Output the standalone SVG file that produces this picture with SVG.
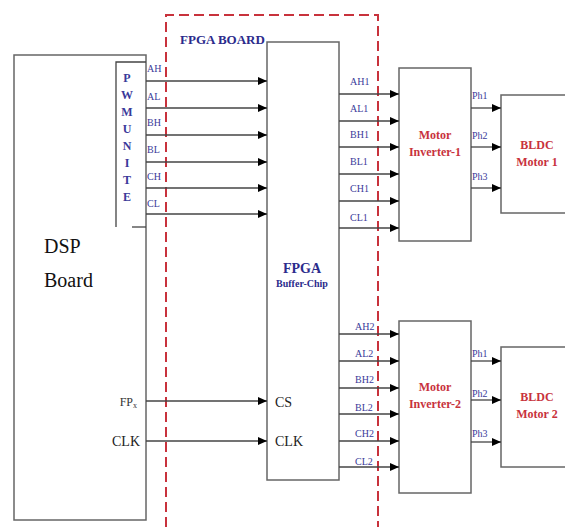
<svg xmlns="http://www.w3.org/2000/svg" width="565" height="527" viewBox="0 0 565 527">
<defs>
<marker id="ah" markerWidth="10" markerHeight="10" refX="9" refY="5" orient="auto" markerUnits="userSpaceOnUse">
<path d="M0,1 L9,5 L0,9 Z" fill="#000"/>
</marker>
<style>
text{font-family:"Liberation Serif","Times New Roman","DejaVu Serif",serif}
.box{fill:#fff;stroke:#666;stroke-width:1.5}
.ln{stroke:#444;stroke-width:1.3;fill:none}
.ar{stroke:#444;stroke-width:1.3;fill:none;marker-end:url(#ah)}
.sig{font-size:10px;fill:#3a3a9a}
.pwm{font-size:12px;font-weight:bold;fill:#3a3a9a;text-anchor:middle}
.red{font-size:12px;font-weight:bold;fill:#c8323c;text-anchor:middle}
.blk{font-size:14px;fill:#222}
.big{font-size:20px;fill:#111}
.chip{font-weight:bold;fill:#2b2b8c;text-anchor:middle}
.dash{stroke:#c8323c;stroke-width:2;fill:none;stroke-dasharray:10,5}
</style>
</defs>
<rect width="565" height="527" fill="#fff"/>
<g id="fpga-board">
<path class="dash" d="M166,527 V15 H378 V527"/>
<text x="180" y="44" font-size="13" font-weight="bold" fill="#2b2b8c">FPGA BOARD</text>
</g>
<g id="dsp">
<rect class="box" x="14" y="55" width="132" height="465"/>
<text class="big" x="44" y="253">DSP</text>
<text class="big" x="44" y="287">Board</text>
<text x="137" y="406" font-size="12" fill="#333" text-anchor="end">FP<tspan font-size="8" dy="2">x</tspan></text>
<text class="blk" x="140" y="446" text-anchor="end">CLK</text>
</g>
<g id="pwm">
<path class="ln" d="M116,227 V62 H146"/>
<path class="ln" d="M132,227 H146"/>
<text class="pwm" x="127" y="82">P</text>
<text class="pwm" x="127" y="99">W</text>
<text class="pwm" x="127" y="116">M</text>
<text class="pwm" x="127" y="133">U</text>
<text class="pwm" x="127" y="150">N</text>
<text class="pwm" x="127" y="167">I</text>
<text class="pwm" x="127" y="184">T</text>
<text class="pwm" x="127" y="201">E</text>
</g>
<g id="fpga-chip">
<rect class="box" x="267" y="42" width="72" height="438"/>
<text class="chip" x="302" y="273" font-size="14">FPGA</text>
<text class="chip" x="302" y="287" font-size="10">Buffer-Chip</text>
<text class="blk" x="275" y="407">CS</text>
<text class="blk" x="275" y="446">CLK</text>
</g>
<g id="inverter1">
<rect class="box" x="399" y="68" width="72" height="173"/>
<text class="red" x="435" y="139">Motor</text>
<text class="red" x="435" y="156">Inverter-1</text>
</g>
<g id="inverter2">
<rect class="box" x="399" y="321" width="72" height="172"/>
<text class="red" x="435" y="391">Motor</text>
<text class="red" x="435" y="408">Inverter-2</text>
</g>
<g id="motor1">
<rect class="box" x="501" y="95" width="70" height="118"/>
<text class="red" x="537" y="149">BLDC</text>
<text class="red" x="537" y="166">Motor 1</text>
</g>
<g id="motor2">
<rect class="box" x="501" y="347" width="70" height="120"/>
<text class="red" x="537" y="401">BLDC</text>
<text class="red" x="537" y="418">Motor 2</text>
</g>
<g id="connectors">
<line class="ar" x1="146" y1="81" x2="267" y2="81"/>
<line class="ar" x1="146" y1="108" x2="267" y2="108"/>
<line class="ar" x1="146" y1="135" x2="267" y2="135"/>
<line class="ar" x1="146" y1="162" x2="267" y2="162"/>
<line class="ar" x1="146" y1="188" x2="267" y2="188"/>
<line class="ar" x1="146" y1="214" x2="267" y2="214"/>
<line class="ar" x1="146" y1="401" x2="267" y2="401"/>
<line class="ar" x1="146" y1="441" x2="267" y2="441"/>
<line class="ar" x1="339" y1="94" x2="399" y2="94"/>
<line class="ar" x1="339" y1="121" x2="399" y2="121"/>
<line class="ar" x1="339" y1="147" x2="399" y2="147"/>
<line class="ar" x1="339" y1="174" x2="399" y2="174"/>
<line class="ar" x1="339" y1="201" x2="399" y2="201"/>
<line class="ar" x1="339" y1="228" x2="399" y2="228"/>
<line class="ar" x1="339" y1="334" x2="399" y2="334"/>
<line class="ar" x1="339" y1="361" x2="399" y2="361"/>
<line class="ar" x1="339" y1="388" x2="399" y2="388"/>
<line class="ar" x1="339" y1="414" x2="399" y2="414"/>
<line class="ar" x1="339" y1="441" x2="399" y2="441"/>
<line class="ar" x1="339" y1="467" x2="399" y2="467"/>
<line class="ar" x1="471" y1="108" x2="501" y2="108"/>
<line class="ar" x1="471" y1="147" x2="501" y2="147"/>
<line class="ar" x1="471" y1="188" x2="501" y2="188"/>
<line class="ar" x1="471" y1="361" x2="501" y2="361"/>
<line class="ar" x1="471" y1="400" x2="501" y2="400"/>
<line class="ar" x1="471" y1="442" x2="501" y2="442"/>
<text class="sig" x="147" y="72">AH</text>
<text class="sig" x="147" y="100">AL</text>
<text class="sig" x="147" y="126">BH</text>
<text class="sig" x="147" y="153">BL</text>
<text class="sig" x="147" y="180">CH</text>
<text class="sig" x="147" y="207">CL</text>
<text class="sig" x="350" y="85">AH1</text>
<text class="sig" x="350" y="112">AL1</text>
<text class="sig" x="350" y="138">BH1</text>
<text class="sig" x="350" y="165">BL1</text>
<text class="sig" x="350" y="192">CH1</text>
<text class="sig" x="350" y="221">CL1</text>
<text class="sig" x="355" y="330">AH2</text>
<text class="sig" x="355" y="357">AL2</text>
<text class="sig" x="355" y="383">BH2</text>
<text class="sig" x="355" y="411">BL2</text>
<text class="sig" x="355" y="437">CH2</text>
<text class="sig" x="355" y="465">CL2</text>
<text class="sig" x="472" y="99">Ph1</text>
<text class="sig" x="472" y="139">Ph2</text>
<text class="sig" x="472" y="180">Ph3</text>
<text class="sig" x="472" y="357">Ph1</text>
<text class="sig" x="472" y="397">Ph2</text>
<text class="sig" x="472" y="437">Ph3</text>
</g>
</svg>
